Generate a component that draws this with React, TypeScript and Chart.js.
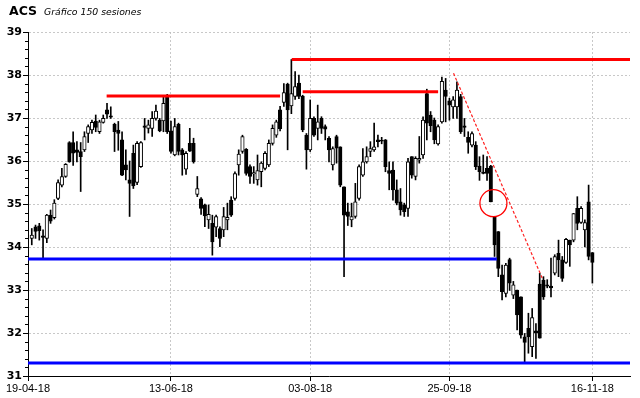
import React, { useEffect, useRef } from 'react';
import { Chart, registerables } from 'chart.js';

Chart.register(...registerables);

// ---- Data (session index 1..150) ----
const opens = [
  34.20, 34.47, 34.49, 34.26, 34.20, 34.74, 34.68, 35.13, 35.44, 35.64,
  36.43, 36.43, 36.26, 36.22, 36.26, 36.64, 36.72, 36.93, 36.68, 36.90,
  37.19, 37.05, 36.85, 36.72, 36.49, 35.91, 35.56, 36.18, 35.50, 35.87,
  36.82, 36.76, 36.76, 36.99, 36.95, 36.93, 37.52, 36.70, 36.14, 36.85,
  36.26, 35.81, 36.41, 36.41, 35.22, 35.12, 34.98, 34.63, 34.55, 34.46,
  34.43, 34.40, 34.63, 35.09, 35.13, 35.91, 36.22, 36.27, 35.87, 35.70,
  35.56, 35.75, 35.83, 35.91, 36.41, 36.60, 37.19, 37.36, 37.79, 37.28,
  37.50, 37.81, 37.51, 36.60, 36.26, 36.99, 36.76, 36.99, 36.80, 36.53,
  35.91, 36.57, 36.33, 35.40, 34.82, 34.63, 34.71, 35.13, 35.67, 35.98,
  36.22, 36.26, 36.49, 36.47, 36.49, 35.78, 35.79, 35.33, 35.05, 34.98,
  34.90, 36.10, 35.64, 36.02, 36.14, 37.57, 37.07, 36.95, 36.40, 36.91,
  37.65, 37.40, 37.26, 37.26, 37.50, 36.82, 36.55, 36.37, 36.37, 35.88,
  35.74, 35.83, 35.88, 34.71, 34.36, 33.35, 32.92, 33.71, 32.88, 33.00,
  32.84, 31.91, 32.11, 31.68, 32.05, 33.14, 33.23, 33.12, 33.09, 33.39,
  33.85, 33.70, 33.64, 34.16, 34.16, 34.90, 34.57, 34.40, 35.05, 33.87,
];
const highs = [
  34.43, 34.51, 34.55, 34.40, 34.76, 34.86, 35.10, 35.56, 35.83, 35.94,
  36.45, 36.68, 36.45, 36.43, 36.68, 36.84, 36.95, 37.07, 36.95, 37.07,
  37.34, 37.26, 36.88, 36.92, 36.68, 36.26, 36.00, 36.37, 36.45, 36.45,
  36.99, 36.95, 37.15, 37.30, 36.99, 37.50, 37.55, 36.93, 36.99, 36.88,
  36.29, 36.22, 36.76, 36.53, 35.64, 35.15, 35.00, 34.98, 34.74, 34.74,
  34.47, 34.92, 35.02, 35.17, 35.75, 36.26, 36.60, 36.29, 35.91, 35.87,
  36.14, 35.98, 36.22, 36.49, 36.84, 36.95, 37.27, 37.80, 37.81, 38.36,
  38.08, 38.00, 37.53, 36.64, 37.42, 37.03, 37.30, 37.03, 36.84, 36.57,
  36.33, 36.60, 36.33, 35.40, 35.02, 35.02, 35.48, 35.91, 36.29, 36.33,
  36.45, 36.88, 36.60, 36.55, 36.50, 35.98, 35.98, 35.56, 35.36, 35.02,
  36.06, 36.10, 36.10, 36.57, 37.03, 37.67, 37.15, 37.00, 36.84, 37.95,
  37.92, 37.46, 37.50, 37.84, 37.55, 36.99, 36.68, 36.68, 36.45, 36.10,
  36.14, 36.10, 35.90, 34.71, 34.36, 33.58, 33.62, 33.74, 33.20, 33.00,
  32.84, 31.99, 32.46, 32.57, 32.22, 33.39, 33.31, 33.24, 33.74, 33.82,
  34.16, 33.78, 34.20, 34.16, 34.78, 35.17, 34.94, 34.63, 35.44, 33.87,
];
const lows = [
  34.05, 34.20, 34.16, 33.72, 34.10, 34.55, 34.65, 35.10, 35.40, 35.62,
  35.97, 35.90, 35.98, 35.29, 36.22, 36.43, 36.64, 36.68, 36.64, 36.88,
  36.99, 36.99, 36.22, 36.25, 35.66, 35.56, 34.71, 35.36, 35.45, 35.85,
  36.49, 36.65, 36.57, 36.95, 36.68, 36.68, 36.64, 36.18, 36.12, 36.14,
  35.67, 35.69, 36.22, 35.95, 35.17, 34.76, 34.47, 34.43, 33.81, 34.24,
  34.01, 34.24, 34.40, 34.71, 35.09, 35.67, 36.18, 35.67, 35.48, 35.48,
  35.44, 35.40, 35.79, 35.87, 36.37, 36.55, 36.70, 37.27, 36.26, 37.10,
  37.43, 37.45, 36.68, 35.81, 36.22, 36.57, 36.49, 36.64, 36.49, 35.98,
  35.79, 35.95, 35.40, 33.31, 34.50, 34.47, 34.67, 35.09, 35.64, 35.95,
  36.10, 36.22, 36.33, 36.40, 35.75, 35.33, 35.09, 34.98, 34.74, 34.71,
  34.71, 35.60, 35.56, 35.95, 36.06, 36.49, 36.68, 36.40, 36.37, 36.88,
  36.91, 36.95, 36.99, 36.99, 36.64, 36.57, 36.18, 36.33, 35.80, 35.55,
  35.70, 35.55, 35.05, 33.78, 33.31, 32.77, 32.84, 32.99, 32.80, 32.07,
  31.88, 31.29, 31.53, 31.45, 31.41, 31.88, 32.78, 33.05, 32.84, 33.35,
  33.31, 33.20, 33.62, 33.55, 34.12, 34.40, 34.55, 34.00, 33.70, 33.16,
];
const closes = [
  34.28, 34.36, 34.38, 34.22, 34.74, 34.60, 35.02, 35.50, 35.64, 35.92,
  35.98, 36.18, 36.20, 36.10, 36.57, 36.80, 36.90, 36.78, 36.91, 36.99,
  37.09, 37.02, 36.68, 36.64, 35.67, 35.79, 35.48, 35.42, 36.41, 36.43,
  36.78, 36.84, 36.99, 37.16, 36.70, 37.34, 36.68, 36.22, 36.80, 36.22,
  36.14, 36.18, 36.23, 35.98, 35.36, 34.90, 34.72, 34.76, 34.12, 34.71,
  34.20, 34.71, 34.69, 34.74, 35.71, 36.16, 36.57, 35.71, 35.64, 35.73,
  35.78, 35.95, 36.18, 36.41, 36.76, 36.91, 36.75, 37.59, 37.19, 37.57,
  37.73, 37.50, 36.72, 36.26, 36.99, 36.60, 36.91, 36.76, 36.74, 36.26,
  36.29, 36.30, 35.44, 34.74, 34.71, 34.71, 35.05, 35.87, 35.98, 36.10,
  36.29, 36.33, 36.45, 36.46, 35.87, 35.71, 35.33, 35.02, 34.86, 34.82,
  35.98, 35.67, 36.06, 36.06, 36.95, 36.88, 36.82, 36.49, 36.80, 37.85,
  37.50, 37.30, 37.42, 37.65, 36.68, 36.78, 36.43, 36.64, 35.87, 35.75,
  35.71, 35.71, 35.05, 34.05, 33.50, 32.96, 33.58, 33.16, 33.12, 32.42,
  31.95, 31.78, 31.91, 32.36, 32.00, 31.88, 32.84, 33.09, 33.05, 33.78,
  33.70, 33.27, 34.18, 34.05, 34.78, 34.55, 34.90, 34.57, 33.78, 33.64,
];
const sessions = opens.map((_, i) => i + 1);

// x-axis ticks (session index) and their date labels
const xTickSessions = [0, 38, 75, 112, 150];
const xTickLabels = ['19-04-18', '13-06-18', '03-08-18', '25-09-18', '16-11-18'];
const yMajorTicks = [31, 32, 33, 34, 35, 36, 37, 38, 39];
const yMinorStep = 0.2;

// Drawn study lines: [session, price] endpoints
const resistance1 = [[20.9, 37.51], [67.0, 37.51]];
const resistance2 = [[70.1, 38.36], [160, 38.36]];
const resistance3 = [[73.0, 37.61], [109.0, 37.61]];
const support1 = [[0, 33.72], [124.6, 33.72]];
const support2 = [[0, 31.30], [160, 31.30]];
const trendLine = [[113.1, 38.04], [136.8, 33.25]];
const circleMark = [123.7, 35.02];

const GRID = 'rgba(190,190,190,0.85)';

const minorTicksPlugin = {
  id: 'minorTicks',
  afterDraw(chart: any) {
    const ys = chart.scales.y;
    const ctx = chart.ctx;
    const left = chart.chartArea.left;
    ctx.save();
    ctx.strokeStyle = '#000';
    ctx.lineWidth = 1;
    ctx.beginPath();
    const n = Math.round((ys.max - ys.min) / yMinorStep);
    for (let k = 0; k <= n; k++) {
      if (k % 5 === 0) continue;
      const v = ys.min + k * yMinorStep;
      const py = Math.round(ys.getPixelForValue(v)) + 0.5;
      ctx.moveTo(left - 3, py);
      ctx.lineTo(left, py);
    }
    ctx.stroke();
    ctx.restore();
  },
};

function lineDs(pts: number[][], color: string, width: number, dash?: number[]) {
  return {
    type: 'line' as const,
    data: pts.map(([x, y]) => ({ x, y })),
    borderColor: color,
    borderWidth: width,
    borderDash: dash || [],
    pointRadius: 0,
    pointHoverRadius: 0,
    fill: false,
    tension: 0,
    order: 0,
  };
}

export default function App() {
  const ref = useRef<HTMLCanvasElement | null>(null);

  useEffect(() => {
    if (!ref.current) return;
    Chart.defaults.font.family = "'DejaVu Sans', sans-serif";
    const bodyColors = opens.map((o, i) => (closes[i] >= o ? '#ffffff' : '#000000'));
    const circlePts = [circleMark, circleMark, circleMark];
    const chart = new Chart(ref.current, {
      type: 'bar',
      data: {
        datasets: [
          lineDs(resistance1, '#ff0000', 3),
          lineDs(resistance2, '#ff0000', 3),
          lineDs(resistance3, '#ff0000', 3),
          lineDs(support1, '#0000ff', 3),
          lineDs(support2, '#0000ff', 3),
          lineDs(trendLine, '#ff2020', 1.2, [3, 2]),
          {
            // circle marker (outer points are zero-size so no layout overflow is reserved)
            type: 'line' as const,
            data: circlePts.map(([x, y]) => ({ x, y })),
            showLine: false,
            borderWidth: 0,
            pointRadius: [0, 13.5, 0],
            pointHoverRadius: 0,
            pointBackgroundColor: 'rgba(0,0,0,0)',
            pointBorderColor: '#ff0000',
            pointBorderWidth: [0, 1.3, 0],
            order: 0,
          },
          {
            type: 'bar' as const,
            data: sessions.map((s, i) => ({ x: s, y: [opens[i], closes[i]] })),
            backgroundColor: bodyColors,
            borderColor: '#000000',
            borderWidth: 1,
            borderSkipped: false,
            barThickness: 3.5,
            minBarLength: 1,
            grouped: false,
            order: 1,
          },
          {
            type: 'bar' as const,
            data: sessions.map((s, i) => ({ x: s, y: [lows[i], highs[i]] })),
            backgroundColor: '#000000',
            borderWidth: 0,
            barThickness: 1,
            grouped: false,
            order: 2,
          },
        ] as any,
      },
      options: {
        responsive: false,
        animation: false,
        events: [],
        layout: { padding: { top: 32, right: 10, left: 0, bottom: 0 } },
        plugins: {
          legend: { display: false },
          tooltip: { enabled: false },
          title: { display: false },
        },
        scales: {
          x: {
            type: 'linear',
            min: 0,
            max: 160,
            offset: false,
            afterBuildTicks: (s: any) => {
              s.ticks = xTickSessions.map((v) => ({ value: v }));
            },
            afterFit: (s: any) => {
              s.height = 22;
              s.paddingLeft = 0;
              s.paddingRight = 0;
            },
            ticks: {
              autoSkip: false,
              maxRotation: 0,
              padding: 1,
              color: '#000',
              font: { family: "'Liberation Sans', sans-serif", size: 11 },
              callback: (v: any) => {
                const k = xTickSessions.indexOf(Number(v));
                return k >= 0 ? xTickLabels[k] : '';
              },
            },
            grid: { color: GRID, tickColor: '#000', tickLength: 5, offset: false },
            border: { color: '#000', width: 1, dash: [2, 2] },
          },
          y: {
            min: 31,
            max: 39,
            afterBuildTicks: (s: any) => {
              s.ticks = yMajorTicks.map((v) => ({ value: v }));
            },
            afterFit: (s: any) => {
              s.width = 28;
              s.paddingTop = 0;
              s.paddingBottom = 0;
            },
            ticks: {
              autoSkip: false,
              padding: 1,
              color: '#000',
              font: { family: "'DejaVu Sans', sans-serif", size: 11, weight: 'bold' },
            },
            grid: { color: GRID, tickColor: '#000', tickLength: 5 },
            border: { color: '#000', width: 1, dash: [2, 2] },
          },
        },
      } as any,
      plugins: [minorTicksPlugin],
    });
    return () => chart.destroy();
  }, []);

  return (
    <div style={{ position: 'fixed', left: 0, top: 0, width: 640, height: 398, background: '#fff' }}>
      <canvas ref={ref} width={640} height={398} style={{ position: 'absolute', left: 0, top: 0, width: 640, height: 398 }} />
      <div
        style={{
          position: 'absolute', left: 9, top: 5, fontFamily: "'DejaVu Sans', sans-serif",
          fontWeight: 'bold', fontSize: 12.5, lineHeight: '12px', color: '#000', whiteSpace: 'nowrap',
        }}
      >
        ACS
      </div>
      <div
        style={{
          position: 'absolute', left: 44, top: 7, fontFamily: "'DejaVu Sans', sans-serif",
          fontStyle: 'italic', fontSize: 9.3, lineHeight: '10px', color: '#000', whiteSpace: 'nowrap',
        }}
      >
        Gráfico 150 sesiones
      </div>
    </div>
  );
}
